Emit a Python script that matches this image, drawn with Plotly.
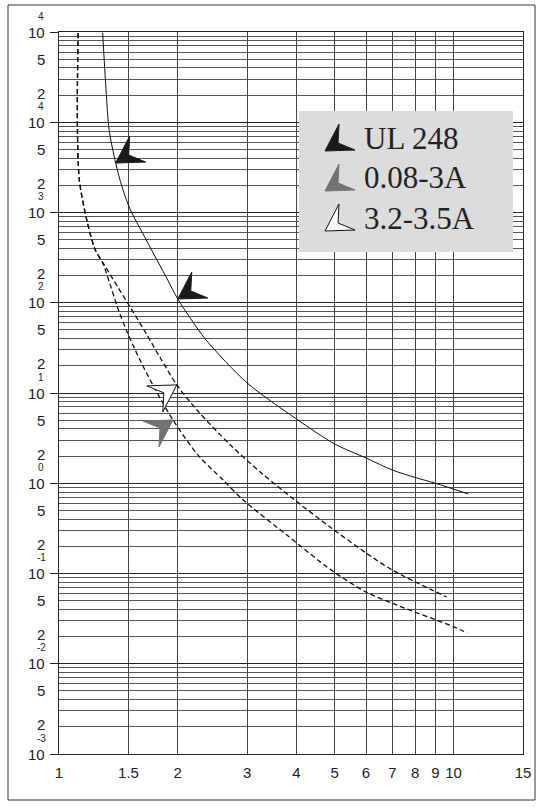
import math
import plotly.graph_objects as go

# ---------------- data ----------------
X_TICKS = [1, 1.5, 2, 3, 4, 5, 6, 7, 8, 9, 10, 15]
X_TICK_TEXT = ["1", "1.5", "2", "3", "4", "5", "6", "7", "8", "9", "10", "15"]

Y_DECADES = [-3, -2, -1, 0, 1, 2, 3, 4, 5]
Y_EXP_TEXT = ["-3", "-2", "-1", "0", "1", "2", "3", "4", "4"]
Y_MINOR_LABELS = [2, 5]

# UL 248 (solid)
UL248_X = [1.29, 1.316, 1.340, 1.392, 1.445, 1.517, 1.623, 1.738, 1.869, 2.0,
           2.159, 2.36, 3.0, 4.0, 5.0, 6.0, 7.0, 8.0, 9.0, 10.9]
UL248_Y = [98000, 22750, 8200, 3530, 1917, 1067, 608, 347, 193, 110,
           66.1, 38.6, 12.9, 5.15, 2.72, 1.905, 1.40, 1.158, 1.0, 0.76]

# 3.2-3.5A (upper dashed)
A32_X = [1.118, 1.113, 1.126, 1.176, 1.236, 1.308, 1.409, 1.525, 1.660, 1.807,
         1.989, 2.249, 2.72, 3.28, 3.96, 4.90, 6.0, 7.0, 9.6]
A32_Y = [97500, 10590, 2290, 826, 384, 255, 149.5, 85.3, 46.2, 24.4,
         12.3, 6.31, 2.65, 1.266, 0.652, 0.319, 0.169, 0.109, 0.055]

# 0.08-3A (lower dashed)
A008_X = [1.118, 1.113, 1.126, 1.176, 1.236, 1.291, 1.349, 1.409, 1.481, 1.552,
          1.642, 1.757, 1.945, 2.249, 2.605, 2.93, 3.78, 4.90, 6.0, 7.17, 10.05, 10.83]
A008_Y = [97500, 10590, 2290, 826, 384, 275, 157, 87.5, 49.9, 31.5,
          18.9, 10.8, 5.02, 2.06, 1.087, 0.652, 0.267, 0.109, 0.0624, 0.0448, 0.0255, 0.0219]

LEGEND_LABELS = ["UL 248", "0.08-3A", "3.2-3.5A"]
LEGEND_FILLS = ["#1a1a1a", "#737373", "#ffffff"]

# ---------------- helpers (layout positions) ----------------
PL, PR, PT, PB = 59, 523, 32, 754
PW, PH = PR - PL, PB - PT


def pxx(xp):
    return (xp - PL) / PW


def pxy(yp):
    return (PB - yp) / PH


ARROW_UP = "M0,0 L14,27 L13,8 L30,1 Z"
ARROW_DOWN = "M0,0 L-14,-27 L-13,-8 L-30,-1 Z"

fig = go.Figure()

curves = [
    (UL248_X, UL248_Y, "solid", 1.0),
    (A32_X, A32_Y, "5px,3px", 1.3),
    (A008_X, A008_Y, "5px,3px", 1.3),
]
for xs, ys, dash, w in curves:
    fig.add_trace(go.Scatter(
        x=xs, y=ys, mode="lines",
        line=dict(color="#111111", width=w, dash=dash, shape="spline", smoothing=0.8),
        hoverinfo="skip", showlegend=False,
    ))

minor_vals = [k * 10 ** e for e in range(-3, 5) for k in range(2, 10)]

fig.update_layout(
    width=542, height=808,
    margin=dict(l=PL, r=542 - PR, t=PT, b=808 - PB),
    paper_bgcolor="white", plot_bgcolor="white",
    showlegend=False,
    font=dict(family="Liberation Sans, Arial, sans-serif", size=15, color="#222222"),
)

fig.update_xaxes(
    type="log", range=[0, math.log10(15)],
    tickmode="array", tickvals=X_TICKS, ticktext=X_TICK_TEXT,
    showgrid=True, gridcolor="#444444", gridwidth=1,
    ticks="", showline=True, mirror=True, linecolor="#222222", linewidth=1,
    zeroline=False, ticklabelstandoff=5,
    tickfont=dict(size=15, color="#222222"),
)

fig.update_yaxes(
    type="log", range=[-3, 5],
    tickmode="array", tickvals=[10 ** e for e in Y_DECADES],
    showticklabels=False, ticks="outside", ticklen=8, tickcolor="#222222",
    showgrid=True, gridcolor="#222222", gridwidth=1,
    showline=True, mirror=True, linecolor="#222222", linewidth=1,
    zeroline=False,
    minor=dict(tickmode="array", tickvals=minor_vals, showgrid=True,
               gridcolor="#555555", gridwidth=1, ticks=""),
)

annotations = []
for e, ex in zip(Y_DECADES, Y_EXP_TEXT):
    annotations.append(dict(
        xref="paper", yref="y", x=0, y=e, xshift=-12, yshift=0,
        xanchor="right", yanchor="middle", text="10", showarrow=False,
        font=dict(size=15, color="#222222"),
    ))
    annotations.append(dict(
        xref="paper", yref="y", x=0, y=e, xshift=-18, yshift=16,
        xanchor="center", yanchor="middle", text=ex, showarrow=False,
        font=dict(size=10, color="#222222"),
    ))
    if e < 5:
        for k in Y_MINOR_LABELS:
            annotations.append(dict(
                xref="paper", yref="y", x=0, y=e + math.log10(k), xshift=-12,
                yshift=2 if k == 2 else 0,
                xanchor="right", yanchor="middle", text=str(k), showarrow=False,
                font=dict(size=15, color="#222222"),
            ))

legend_centers = [138, 178, 218]
for lab, yc in zip(LEGEND_LABELS, legend_centers):
    annotations.append(dict(
        xref="paper", yref="paper", x=pxx(362), y=pxy(yc),
        xanchor="left", yanchor="middle", text=lab, showarrow=False,
        font=dict(family="Liberation Serif, Times New Roman, serif", size=31, color="#222222"),
    ))

shapes = []
# outer frame
shapes.append(dict(type="rect", xref="paper", yref="paper",
                   x0=pxx(8), x1=pxx(535), y0=pxy(800), y1=pxy(5),
                   line=dict(color="#333333", width=1), layer="above"))
# legend box
shapes.append(dict(type="rect", xref="paper", yref="paper",
                   x0=pxx(299), x1=pxx(513), y0=pxy(252), y1=pxy(111),
                   fillcolor="#dcdcdc", line=dict(width=0), layer="above"))
# legend markers
legend_tips = [151, 191, 231]
for fill, yt in zip(LEGEND_FILLS, legend_tips):
    shapes.append(dict(type="path", xref="paper", yref="paper",
                       xsizemode="pixel", ysizemode="pixel",
                       xanchor=pxx(325), yanchor=pxy(yt), path=ARROW_UP,
                       fillcolor=fill,
                       line=dict(color="#111111" if fill == "#ffffff" else fill, width=1),
                       layer="above"))

# arrows pointing at the curves
chart_arrows = [
    (UL248_X[3], UL248_Y[3], ARROW_UP, LEGEND_FILLS[0]),
    (UL248_X[9], UL248_Y[9], ARROW_UP, LEGEND_FILLS[0]),
    (A32_X[10], A32_Y[10], ARROW_DOWN, LEGEND_FILLS[2]),
    (A008_X[12], A008_Y[12], ARROW_DOWN, LEGEND_FILLS[1]),
]
for ax_, ay_, path, fill in chart_arrows:
    shapes.append(dict(type="path", xref="x", yref="y",
                       xsizemode="pixel", ysizemode="pixel",
                       xanchor=ax_, yanchor=ay_, path=path,
                       fillcolor=fill,
                       line=dict(color="#111111" if fill == "#ffffff" else fill, width=1),
                       layer="above"))

fig.update_layout(annotations=annotations, shapes=shapes)

fig.write_html("out.html", config={"displayModeBar": False},
               post_script="document.body.style.margin='0';")
